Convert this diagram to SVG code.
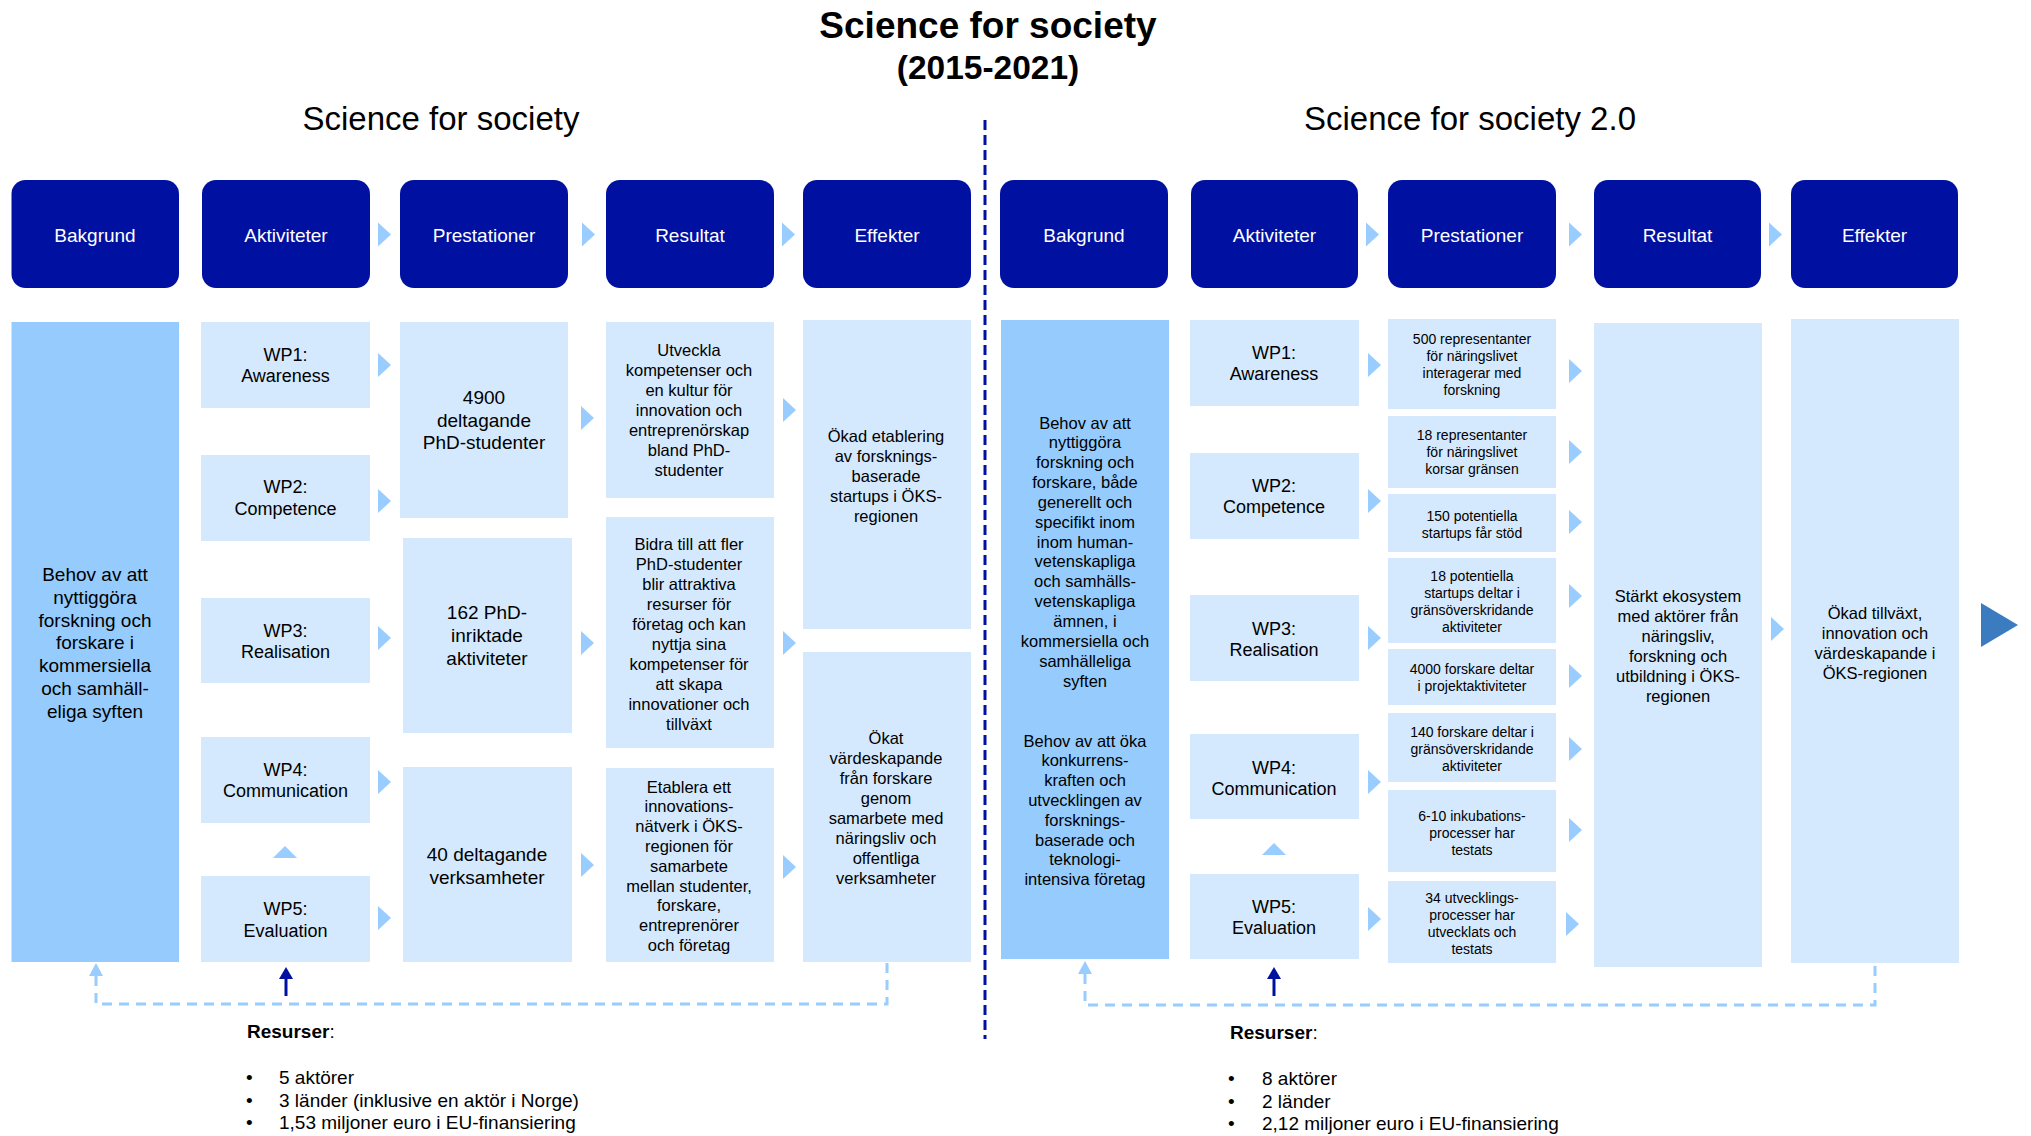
<svg xmlns="http://www.w3.org/2000/svg" xmlns:xlink="http://www.w3.org/1999/xlink" width="2031" height="1136" viewBox="0 0 2031 1136">
<style>
text{font-family:"Liberation Sans",Arial,sans-serif;fill:#000;text-anchor:middle}
.hdr{fill:#0010A0}
.hdrt{fill:#fff;font-size:19px}
.lb{fill:#D4E9FD}
.mb{fill:#95CBFD}
.f19{font-size:19px}
.f18{font-size:18px}
.f165{font-size:16.5px}
.f14{font-size:14px}
.res{text-anchor:start;font-size:19px}
.fb{stroke:#99CCFF;stroke-width:3;fill:none;stroke-dasharray:10 7}
.div{stroke:#0010A0;stroke-width:3;fill:none;stroke-dasharray:10 5}
</style>
<defs>
<path id="tri" d="M0,-12 L13,0 L0,12 Z" fill="#99CCFF"/>
<path id="triu" d="M-12,6 L0,-6 L12,6 Z" fill="#99CCFF"/>
</defs>
<rect width="2031" height="1136" fill="#fff"/>

<g id="titles">
<text x="988" y="38" style="font-size:37px;font-weight:bold">Science for society</text>
<text x="988" y="79" style="font-size:33.5px;font-weight:bold">(2015-2021)</text>
<text x="441" y="130" style="font-size:33px">Science for society</text>
<text x="1470" y="130" style="font-size:33px">Science for society 2.0</text>
</g>

<!-- Left headers -->
<g id="h-bakgrund-1"><rect class="hdr" x="11.5" y="180" width="167.5" height="108" rx="14"/><text class="hdrt" x="95" y="242">Bakgrund</text></g>
<g id="h-aktiviteter-1"><rect class="hdr" x="202" y="180" width="168" height="108" rx="14"/><text class="hdrt" x="286" y="242">Aktiviteter</text></g>
<g id="h-prestationer-1"><rect class="hdr" x="400" y="180" width="168" height="108" rx="14"/><text class="hdrt" x="484" y="242">Prestationer</text></g>
<g id="h-resultat-1"><rect class="hdr" x="606" y="180" width="168" height="108" rx="14"/><text class="hdrt" x="690" y="242">Resultat</text></g>
<g id="h-effekter-1"><rect class="hdr" x="803" y="180" width="168" height="108" rx="14"/><text class="hdrt" x="887" y="242">Effekter</text></g>

<!-- Right headers -->
<g id="h-bakgrund-2"><rect class="hdr" x="1000" y="180" width="168" height="108" rx="14"/><text class="hdrt" x="1084" y="242">Bakgrund</text></g>
<g id="h-aktiviteter-2"><rect class="hdr" x="1191" y="180" width="167" height="108" rx="14"/><text class="hdrt" x="1274.5" y="242">Aktiviteter</text></g>
<g id="h-prestationer-2"><rect class="hdr" x="1388" y="180" width="168" height="108" rx="14"/><text class="hdrt" x="1472" y="242">Prestationer</text></g>
<g id="h-resultat-2"><rect class="hdr" x="1594" y="180" width="167" height="108" rx="14"/><text class="hdrt" x="1677.5" y="242">Resultat</text></g>
<g id="h-effekter-2"><rect class="hdr" x="1791" y="180" width="167" height="108" rx="14"/><text class="hdrt" x="1874.5" y="242">Effekter</text></g>

<!-- Left content -->
<g id="bakgrund-1"><rect class="mb" x="11.5" y="322" width="167.5" height="640"/>
<text class="f19"><tspan x="95" y="581">Behov av att</tspan><tspan x="95" dy="22.8">nyttiggöra</tspan><tspan x="95" dy="22.8">forskning och</tspan><tspan x="95" dy="22.8">forskare i</tspan><tspan x="95" dy="22.8">kommersiella</tspan><tspan x="95" dy="22.8">och samhäll-</tspan><tspan x="95" dy="22.8">eliga syften</tspan></text></g>

<g id="wp1-1"><rect class="lb" x="201" y="322" width="169" height="86"/><text class="f18"><tspan x="285.5" y="361">WP1:</tspan><tspan x="285.5" dy="21">Awareness</tspan></text></g>
<g id="wp2-1"><rect class="lb" x="201" y="455" width="169" height="86"/><text class="f18"><tspan x="285.5" y="493">WP2:</tspan><tspan x="285.5" dy="22">Competence</tspan></text></g>
<g id="wp3-1"><rect class="lb" x="201" y="598" width="169" height="85"/><text class="f18"><tspan x="285.5" y="637">WP3:</tspan><tspan x="285.5" dy="21">Realisation</tspan></text></g>
<g id="wp4-1"><rect class="lb" x="201" y="737" width="169" height="86"/><text class="f18"><tspan x="285.5" y="776">WP4:</tspan><tspan x="285.5" dy="21">Communication</tspan></text></g>
<g id="wp5-1"><rect class="lb" x="201" y="876" width="169" height="86"/><text class="f18"><tspan x="285.5" y="915">WP5:</tspan><tspan x="285.5" dy="22">Evaluation</tspan></text></g>

<g id="prest1-1"><rect class="lb" x="400" y="322" width="168" height="196"/><text class="f19"><tspan x="484" y="404">4900</tspan><tspan x="484" dy="22.6">deltagande</tspan><tspan x="484" dy="22.6">PhD-studenter</tspan></text></g>
<g id="prest2-1"><rect class="lb" x="403" y="538" width="169" height="195"/><text class="f19"><tspan x="487" y="619">162 PhD-</tspan><tspan x="487" dy="23">inriktade</tspan><tspan x="487" dy="23">aktiviteter</tspan></text></g>
<g id="prest3-1"><rect class="lb" x="403" y="767" width="169" height="195"/><text class="f19"><tspan x="487" y="861">40 deltagande</tspan><tspan x="487" dy="23">verksamheter</tspan></text></g>

<g id="res1-1"><rect class="lb" x="606" y="322" width="168" height="176"/><text class="f165"><tspan x="689" y="355.5">Utveckla</tspan><tspan x="689" dy="20.1">kompetenser och</tspan><tspan x="689" dy="20.1">en kultur för</tspan><tspan x="689" dy="20.1">innovation och</tspan><tspan x="689" dy="20.1">entreprenörskap</tspan><tspan x="689" dy="20.1">bland PhD-</tspan><tspan x="689" dy="20.1">studenter</tspan></text></g>
<g id="res2-1"><rect class="lb" x="606" y="517" width="168" height="231"/><text class="f165"><tspan x="689" y="549.5">Bidra till att fler</tspan><tspan x="689" dy="20">PhD-studenter</tspan><tspan x="689" dy="20">blir attraktiva</tspan><tspan x="689" dy="20">resurser för</tspan><tspan x="689" dy="20">företag och kan</tspan><tspan x="689" dy="20">nyttja sina</tspan><tspan x="689" dy="20">kompetenser för</tspan><tspan x="689" dy="20">att skapa</tspan><tspan x="689" dy="20">innovationer och</tspan><tspan x="689" dy="20">tillväxt</tspan></text></g>
<g id="res3-1"><rect class="lb" x="606" y="768" width="168" height="194"/><text class="f165"><tspan x="689" y="792.5">Etablera ett</tspan><tspan x="689" dy="19.8">innovations-</tspan><tspan x="689" dy="19.8">nätverk i ÖKS-</tspan><tspan x="689" dy="19.8">regionen för</tspan><tspan x="689" dy="19.8">samarbete</tspan><tspan x="689" dy="19.8">mellan studenter,</tspan><tspan x="689" dy="19.8">forskare,</tspan><tspan x="689" dy="19.8">entreprenörer</tspan><tspan x="689" dy="19.8">och företag</tspan></text></g>

<g id="eff1-1"><rect class="lb" x="803" y="320" width="168" height="309"/><text class="f165"><tspan x="886" y="441.5">Ökad etablering</tspan><tspan x="886" dy="20">av forsknings-</tspan><tspan x="886" dy="20">baserade</tspan><tspan x="886" dy="20">startups i ÖKS-</tspan><tspan x="886" dy="20">regionen</tspan></text></g>
<g id="eff2-1"><rect class="lb" x="803" y="652" width="168" height="310"/><text class="f165"><tspan x="886" y="743.5">Ökat</tspan><tspan x="886" dy="20">värdeskapande</tspan><tspan x="886" dy="20">från forskare</tspan><tspan x="886" dy="20">genom</tspan><tspan x="886" dy="20">samarbete med</tspan><tspan x="886" dy="20">näringsliv och</tspan><tspan x="886" dy="20">offentliga</tspan><tspan x="886" dy="20">verksamheter</tspan></text></g>

<!-- Right content -->
<g id="bakgrund-2"><rect class="mb" x="1001" y="320" width="168" height="639"/>
<text class="f165"><tspan x="1085" y="428.5">Behov av att</tspan><tspan x="1085" dy="19.85">nyttiggöra</tspan><tspan x="1085" dy="19.85">forskning och</tspan><tspan x="1085" dy="19.85">forskare, både</tspan><tspan x="1085" dy="19.85">generellt och</tspan><tspan x="1085" dy="19.85">specifikt inom</tspan><tspan x="1085" dy="19.85">inom human-</tspan><tspan x="1085" dy="19.85">vetenskapliga</tspan><tspan x="1085" dy="19.85">och samhälls-</tspan><tspan x="1085" dy="19.85">vetenskapliga</tspan><tspan x="1085" dy="19.85">ämnen, i</tspan><tspan x="1085" dy="19.85">kommersiella och</tspan><tspan x="1085" dy="19.85">samhälleliga</tspan><tspan x="1085" dy="19.85">syften</tspan></text>
<text class="f165"><tspan x="1085" y="746.5">Behov av att öka</tspan><tspan x="1085" dy="19.8">konkurrens-</tspan><tspan x="1085" dy="19.8">kraften och</tspan><tspan x="1085" dy="19.8">utvecklingen av</tspan><tspan x="1085" dy="19.8">forsknings-</tspan><tspan x="1085" dy="19.8">baserade och</tspan><tspan x="1085" dy="19.8">teknologi-</tspan><tspan x="1085" dy="19.8">intensiva företag</tspan></text></g>

<g id="wp1-2"><rect class="lb" x="1190" y="320" width="169" height="86"/><text class="f18"><tspan x="1274" y="359">WP1:</tspan><tspan x="1274" dy="21">Awareness</tspan></text></g>
<g id="wp2-2"><rect class="lb" x="1190" y="453" width="169" height="86"/><text class="f18"><tspan x="1274" y="492">WP2:</tspan><tspan x="1274" dy="21">Competence</tspan></text></g>
<g id="wp3-2"><rect class="lb" x="1190" y="595" width="169" height="86"/><text class="f18"><tspan x="1274" y="635">WP3:</tspan><tspan x="1274" dy="21">Realisation</tspan></text></g>
<g id="wp4-2"><rect class="lb" x="1190" y="734" width="169" height="85"/><text class="f18"><tspan x="1274" y="774">WP4:</tspan><tspan x="1274" dy="21">Communication</tspan></text></g>
<g id="wp5-2"><rect class="lb" x="1190" y="874" width="169" height="85"/><text class="f18"><tspan x="1274" y="913">WP5:</tspan><tspan x="1274" dy="21">Evaluation</tspan></text></g>

<g id="prest1-2"><rect class="lb" x="1388" y="319" width="168" height="90"/><text class="f14"><tspan x="1472" y="344">500 representanter</tspan><tspan x="1472" dy="17">för näringslivet</tspan><tspan x="1472" dy="17">interagerar med</tspan><tspan x="1472" dy="17">forskning</tspan></text></g>
<g id="prest2-2"><rect class="lb" x="1388" y="416" width="168" height="72"/><text class="f14"><tspan x="1472" y="440">18 representanter</tspan><tspan x="1472" dy="17">för näringslivet</tspan><tspan x="1472" dy="17">korsar gränsen</tspan></text></g>
<g id="prest3-2"><rect class="lb" x="1388" y="494" width="168" height="58"/><text class="f14"><tspan x="1472" y="521">150 potentiella</tspan><tspan x="1472" dy="17">startups får stöd</tspan></text></g>
<g id="prest4-2"><rect class="lb" x="1388" y="558" width="168" height="85"/><text class="f14"><tspan x="1472" y="581">18 potentiella</tspan><tspan x="1472" dy="17">startups deltar i</tspan><tspan x="1472" dy="17">gränsöverskridande</tspan><tspan x="1472" dy="17">aktiviteter</tspan></text></g>
<g id="prest5-2"><rect class="lb" x="1388" y="649" width="168" height="56"/><text class="f14"><tspan x="1472" y="674">4000 forskare deltar</tspan><tspan x="1472" dy="17">i projektaktiviteter</tspan></text></g>
<g id="prest6-2"><rect class="lb" x="1388" y="713" width="168" height="69"/><text class="f14"><tspan x="1472" y="737">140 forskare deltar i</tspan><tspan x="1472" dy="17">gränsöverskridande</tspan><tspan x="1472" dy="17">aktiviteter</tspan></text></g>
<g id="prest7-2"><rect class="lb" x="1388" y="790" width="168" height="82"/><text class="f14"><tspan x="1472" y="821">6-10 inkubations-</tspan><tspan x="1472" dy="17">processer har</tspan><tspan x="1472" dy="17">testats</tspan></text></g>
<g id="prest8-2"><rect class="lb" x="1388" y="881" width="168" height="82"/><text class="f14"><tspan x="1472" y="903">34 utvecklings-</tspan><tspan x="1472" dy="17">processer har</tspan><tspan x="1472" dy="17">utvecklats och</tspan><tspan x="1472" dy="17">testats</tspan></text></g>

<g id="res-2"><rect class="lb" x="1594" y="323" width="168" height="644"/><text class="f165"><tspan x="1678" y="601.5">Stärkt ekosystem</tspan><tspan x="1678" dy="20">med aktörer från</tspan><tspan x="1678" dy="20">näringsliv,</tspan><tspan x="1678" dy="20">forskning och</tspan><tspan x="1678" dy="20">utbildning i ÖKS-</tspan><tspan x="1678" dy="20">regionen</tspan></text></g>
<g id="eff-2"><rect class="lb" x="1791" y="319" width="168" height="644"/><text class="f165"><tspan x="1875" y="618.5">Ökad tillväxt,</tspan><tspan x="1875" dy="20">innovation och</tspan><tspan x="1875" dy="20">värdeskapande i</tspan><tspan x="1875" dy="20">ÖKS-regionen</tspan></text></g>

<!-- Resources -->
<g id="resurser-1">
<text x="247" y="1038" class="res"><tspan font-weight="bold">Resurser</tspan>:</text>
<text x="246" y="1084" class="res">•</text><text x="279" y="1084" class="res">5 aktörer</text>
<text x="246" y="1107" class="res">•</text><text x="279" y="1107" class="res">3 länder (inklusive en aktör i Norge)</text>
<text x="246" y="1129" class="res">•</text><text x="279" y="1129" class="res">1,53 miljoner euro i EU-finansiering</text>
</g>
<g id="resurser-2">
<text x="1230" y="1039" class="res"><tspan font-weight="bold">Resurser</tspan>:</text>
<text x="1228" y="1085" class="res">•</text><text x="1262" y="1085" class="res">8 aktörer</text>
<text x="1228" y="1108" class="res">•</text><text x="1262" y="1108" class="res">2 länder</text>
<text x="1228" y="1130" class="res">•</text><text x="1262" y="1130" class="res">2,12 miljoner euro i EU-finansiering</text>
</g>

<g id="connectors">
<line class="div" x1="985" y1="120" x2="985" y2="1039"/>
<!-- header arrows -->
<use xlink:href="#tri" x="378" y="234.5"/><use xlink:href="#tri" x="582" y="234.5"/><use xlink:href="#tri" x="782" y="234.5"/>
<use xlink:href="#tri" x="1366" y="234.5"/><use xlink:href="#tri" x="1569" y="234.5"/><use xlink:href="#tri" x="1769" y="234.5"/>
<!-- left WP arrows -->
<use xlink:href="#tri" x="378" y="365"/><use xlink:href="#tri" x="378" y="501"/><use xlink:href="#tri" x="378" y="638"/><use xlink:href="#tri" x="378" y="782"/><use xlink:href="#tri" x="378" y="918"/>
<use xlink:href="#tri" x="581" y="418"/><use xlink:href="#tri" x="581" y="643"/><use xlink:href="#tri" x="581" y="865"/>
<use xlink:href="#tri" x="783" y="410"/><use xlink:href="#tri" x="783" y="643"/><use xlink:href="#tri" x="783" y="867"/>
<use xlink:href="#triu" x="285" y="852"/>
<!-- right arrows -->
<use xlink:href="#tri" x="1368" y="365"/><use xlink:href="#tri" x="1368" y="501"/><use xlink:href="#tri" x="1368" y="638"/><use xlink:href="#tri" x="1368" y="782"/><use xlink:href="#tri" x="1368" y="919"/>
<use xlink:href="#tri" x="1569" y="371"/><use xlink:href="#tri" x="1569" y="452"/><use xlink:href="#tri" x="1569" y="522"/><use xlink:href="#tri" x="1569" y="596"/><use xlink:href="#tri" x="1569" y="676"/><use xlink:href="#tri" x="1569" y="749"/><use xlink:href="#tri" x="1569" y="830"/><use xlink:href="#tri" x="1566" y="924"/>
<use xlink:href="#tri" x="1771" y="629"/>
<use xlink:href="#triu" x="1274" y="849"/>
<polygon points="1981,603 2018,625 1981,647" fill="#3B7CC0"/>
<!-- resource arrows -->
<line x1="286" y1="996" x2="286" y2="976" stroke="#0010A0" stroke-width="3"/>
<polygon points="279,979 286,967 293,979" fill="#0010A0"/>
<line x1="1274" y1="996" x2="1274" y2="976" stroke="#0010A0" stroke-width="3"/>
<polygon points="1267,979 1274,967 1281,979" fill="#0010A0"/>
<!-- feedback loops -->
<path class="fb" d="M96,976 V1004 H887 V962"/>
<polygon points="89,976 96,963 103,976" fill="#99CCFF"/>
<path class="fb" d="M1085,974 V1005 H1875 V963"/>
<polygon points="1078,974 1085,961 1092,974" fill="#99CCFF"/>
</g>
</svg>
